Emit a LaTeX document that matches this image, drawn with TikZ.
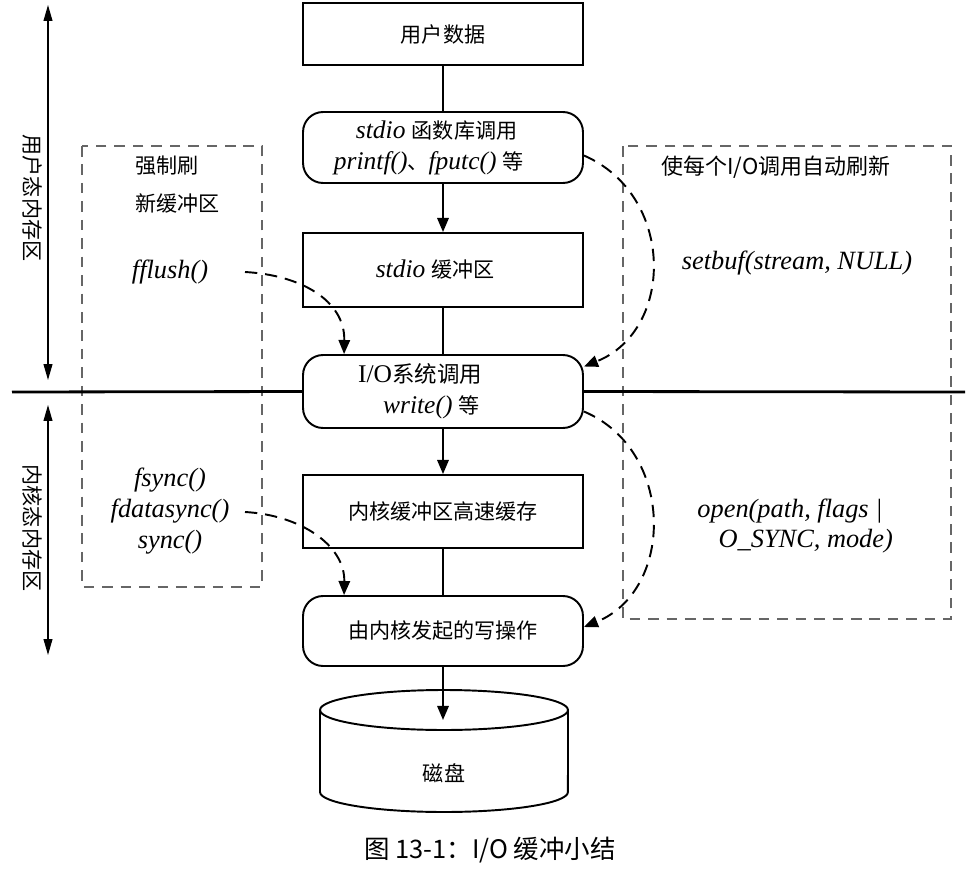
\documentclass[tikz,border=0pt]{standalone}
\usepackage{fontspec}
\setmainfont{Liberation Serif}
\newfontfamily\cjk{Noto Sans CJK SC}
\newcommand\zh[1]{{\cjk\fontsize{12}{17}\selectfont #1}}
\usetikzlibrary{arrows.meta,calc}
\begin{document}
\begin{tikzpicture}[x=0.02cm,y=-0.02cm,
  font=\fontsize{14.5}{17.5}\selectfont,
  box/.style={draw, line width=1.1pt, minimum width=5.6cm, align=center, inner sep=0pt, fill=white},
  rbox/.style={box, rounded corners=0.4cm},
  arr/.style={-{Triangle[length=8pt,width=6.5pt]}, line width=1.1pt},
  link/.style={line width=1.1pt},
  dasharr/.style={dash pattern=on 7pt off 4.5pt, line width=1.1pt, -{Triangle[length=8pt,width=6.5pt]}},
  dbox/.style={draw=black!60, dash pattern=on 6pt off 4.5pt, line width=0.7pt},
  fn/.style={font=\fontsize{15}{17.5}\selectfont\itshape, inner sep=1pt},
  lab/.style={font=\cjk\fontsize{12}{15}\selectfont, inner sep=1pt},
  side/.style={<->, >={Triangle[length=9pt,width=5pt]}, line width=0.7pt}
]
\fill[white] (0,0) rectangle (974,879);
\useasboundingbox (0,0) rectangle (974,879);

% dashed regions
\draw[dbox] (82,146) rectangle (262,587);
\draw[dbox] (623,146) rectangle (951,619);

% side arrows and labels
\draw[side] (48,5) -- (48,380);
\draw[side] (48,405) -- (48,655);
\node[lab, rotate=-90] (ulab) at (33,198) {用户态内存区};
\node[lab, rotate=-90] (klab) at (33,528) {内核态内存区};

% main boxes
\node[box, minimum height=1.24cm] (b1) at (443,34) {\zh{用户数据}};
\node[rbox, minimum height=1.42cm] (b2) at (443,147.5) {{\itshape stdio} \zh{函数库调用}\hspace*{0.5em}\\{\itshape printf()}\zh{、}{\itshape fputc()} \zh{等}\hspace*{1.1em}};
\node[box, minimum height=1.48cm] (b3) at (443,270) {{\itshape stdio} \zh{缓冲区}\hspace*{0.6em}};
\node[rbox, minimum height=1.46cm] (b4) at (443,391.5) {I/O{\cjk\fontsize{12.8}{17}\selectfont 系统调用}\hspace*{1.8em}\\{\itshape write()} \zh{等}\hspace*{0.9em}};
\node[box, minimum height=1.46cm] (b5) at (443,511.5) {\zh{内核缓冲区高速缓存}};
\node[rbox, minimum height=1.4cm] (b6) at (443,631) {\zh{由内核发起的写操作}};

% separator line
\coordinate (hl) at (12,392);
\coordinate (hr) at (965,392);
\draw[line width=1.6pt] (hl) -- (b4.west);
\draw[line width=1.6pt] (b4.east) -- (hr);

% disk
\draw[line width=1.1pt, fill=white] (320,710) -- (320,792) arc[start angle=180, end angle=360, x radius=2.48cm, y radius=0.4cm] -- (568,710);
\draw[line width=1.1pt] (444,710) ellipse[x radius=2.48cm, y radius=0.4cm];
\node[lab] (disk) at (444,773) {磁盘};
\coordinate (disktop) at (443,720);

% vertical connectors
\draw[link] (b1) -- (b2);
\draw[arr] (b2) -- (b3);
\draw[link] (b3) -- (b4);
\draw[arr] (b4) -- (b5);
\draw[link] (b5) -- (b6);
\draw[arr] (b6) -- (disktop);

% left texts
\node[lab, anchor=west] (qz1) at (133,166) {强制刷};
\node[lab, anchor=west] (qz2) at (133,203) {新缓冲区};
\node[fn] (ffl) at (170,272) {fflush()};
\node[fn, align=center] (syn) at (170,511) {fsync()\\fdatasync()\\sync()};

% right texts
\node[lab, font=\cjk\fontsize{12.5}{15}\selectfont] (auto) at (776,167) {使每个I/O调用自动刷新};
\node[fn] (sb) at (797,263) {setbuf(stream, NULL)};
\node[fn, align=center] (op) at (790,526) {open(path, flags |\\\hspace*{1.2em}O\_SYNC, mode)};

% dashed arrows
\coordinate (s1) at (245,272);
\coordinate (s2) at (245,512);
\draw[dasharr] (s1) .. controls (300,275) and (345,300) .. ($(b4.north west)+(42,0)$);
\draw[dasharr] (s2) .. controls (300,515) and (345,545) .. ($(b6.north west)+(42,0)$);
\draw[dasharr] ($(b2.east)+(0,8)$) .. controls (675,195) and (675,330) .. ($(b4.east)+(0,-25)$);
\draw[dasharr] ($(b4.east)+(0,20)$) .. controls (675,450) and (675,590) .. ($(b6.east)+(0,-4)$);

% caption
\node[font=\cjk\fontsize{14.5}{16}\selectfont] (cap) at (490,850) {图 13-1：I/O 缓冲小结};
\end{tikzpicture}
\end{document}
